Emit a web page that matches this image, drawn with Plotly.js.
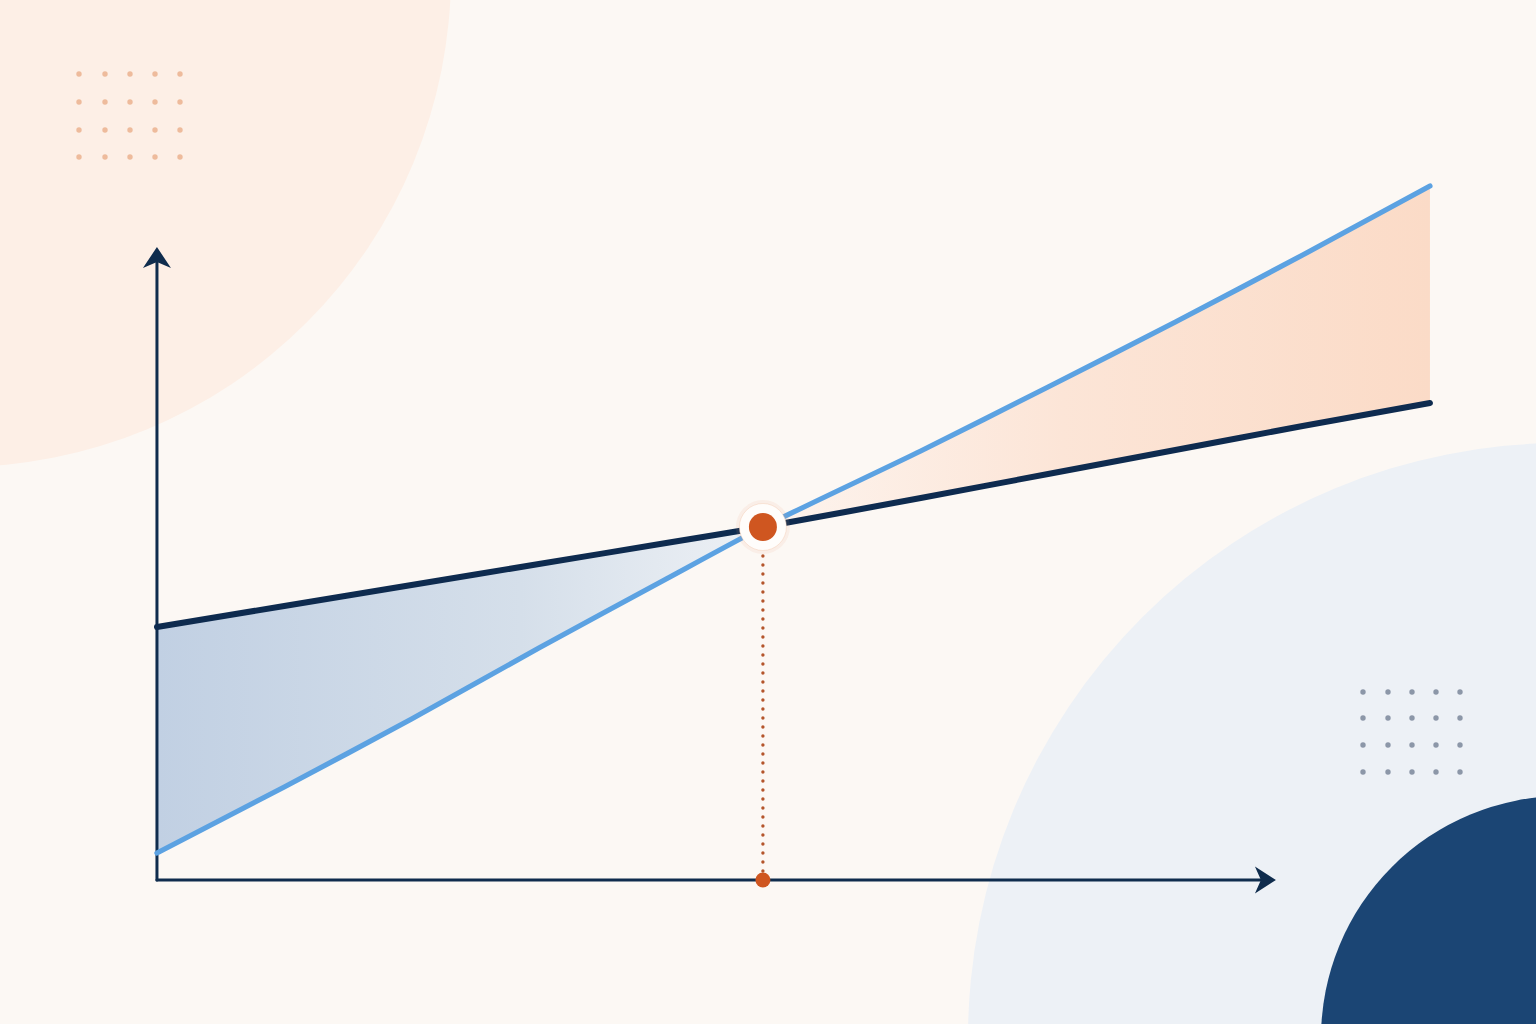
<!DOCTYPE html>
<html>
<head>
<meta charset="utf-8">
<script src="https://cdn.plot.ly/plotly-3.0.1.min.js"></script>
<style>
  html, body { margin: 0; padding: 0; background: #fcf8f4; overflow: hidden; }
  #chart { width: 1536px; height: 1024px; }
  /* rounded ends on the cost / revenue lines and round dots on the drop line */
  .scatterlayer .js-line { stroke-linecap: round; }
</style>
</head>
<body>
<div id="chart"></div>
<script>
// Break-even chart: total cost vs. sales revenue, no labels

// ---- data ----
const units   = [0, 10, 20, 30, 40, 47.6, 60, 70, 80, 90, 100];
const cost    = [25.3, 27.4, 29.5, 31.6, 33.7, 35.3, 38.2, 40.6, 43.0, 45.4, 47.7];
const revenue = [2.7, 9.3, 16.1, 23.2, 30.1, 35.3, 42.9, 49.3, 55.8, 62.5, 69.4];
const breakEvenX = [47.6];
const breakEvenY = [35.3];

// ---- frame ----
const W = 1536, H = 1024;
const X_RANGE = [-12.33, 108.33];
const Y_RANGE = [-14.4, 88.0];
const X_ARROW_TIP = 87.9;
const Y_ARROW_TIP = 63.3;

const COLORS = {
    bg: '#fcf8f4',
    peachBlob: '#fdefe6',
    blueBlob: '#edf1f6',
    navyBlob: '#1b4574',
    axis: '#0f2c4d',
    cost: '#0e2b4f',
    revenue: '#5ca2e2',
    accent: '#cf5620',
    drop: '#b4552b',
    peachDot: '#eebb9c',
    greyDot: '#8c97a8'
};

// ---- decoration helpers (pixel -> paper) ----
function circle(cx, cy, r, color) {
    return {
        type: 'circle', xref: 'paper', yref: 'paper', layer: 'below',
        x0: (cx - r) / W, x1: (cx + r) / W,
        y0: 1 - (cy + r) / H, y1: 1 - (cy - r) / H,
        fillcolor: color, line: { width: 0 }
    };
}

function dotGrid(xs, ys, r, color) {
    const out = [];
    ys.forEach(y => xs.forEach(x => out.push(circle(x, y, r, color))));
    return out;
}

const shapes = [
    circle(-42, -26, 493, COLORS.peachBlob),
    circle(1563, 1038, 595, COLORS.blueBlob),
    circle(1563, 1038, 242, COLORS.navyBlob),
    ...dotGrid([79, 105, 130, 155, 180], [74, 102, 130, 157], 2.7, COLORS.peachDot),
    ...dotGrid([1363, 1388, 1412, 1436, 1460], [692, 718, 745, 772], 2.7, COLORS.greyDot),
    // arrow heads
    {
        type: 'path', xref: 'x', yref: 'y', xsizemode: 'pixel', ysizemode: 'pixel',
        xanchor: 0, yanchor: Y_ARROW_TIP, layer: 'above',
        path: 'M0,0 L-14,-21 L0,-15 L14,-21 Z',
        fillcolor: COLORS.axis, line: { width: 0 }
    },
    {
        type: 'path', xref: 'x', yref: 'y', xsizemode: 'pixel', ysizemode: 'pixel',
        xanchor: X_ARROW_TIP, yanchor: 0, layer: 'above',
        path: 'M0,0 L-21,13.5 L-15,0 L-21,-13.5 Z',
        fillcolor: COLORS.axis, line: { width: 0 }
    }
];

// ---- loss / profit areas, built from the series ----
const be = units.indexOf(breakEvenX[0]);
const lossU = units.slice(0, be + 1);
const profitU = units.slice(be);

const lossArea = {
    x: lossU.concat(lossU.slice().reverse()),
    y: cost.slice(0, be + 1).concat(revenue.slice(0, be + 1).reverse()),
    mode: 'none', fill: 'toself', hoverinfo: 'skip',
    fillgradient: { type: 'horizontal', colorscale: [[0, '#c1d0e3'], [0.6, '#d5dfea'], [1, '#eef1f5']] }
};

const profitArea = {
    x: profitU.concat(profitU.slice().reverse()),
    y: revenue.slice(be).concat(cost.slice(be).reverse()),
    mode: 'none', fill: 'toself', hoverinfo: 'skip',
    fillgradient: { type: 'horizontal', colorscale: [[0, '#fdf4ee'], [0.45, '#fce5d7'], [1, '#fbdbc7']] }
};

// ---- axes as lines ----
const yAxisLine = {
    x: [0, 0], y: [0, Y_ARROW_TIP - 1.2], mode: 'lines', hoverinfo: 'skip',
    line: { color: COLORS.axis, width: 3 }
};
const xAxisLine = {
    x: [0, X_ARROW_TIP - 1.0], y: [0, 0], mode: 'lines', hoverinfo: 'skip',
    line: { color: COLORS.axis, width: 3 }
};

// ---- series ----
const revenueLine = {
    x: units, y: revenue, mode: 'lines', hoverinfo: 'skip',
    line: { color: COLORS.revenue, width: 5.2, shape: 'spline', smoothing: 0.6 }
};
const costLine = {
    x: units, y: cost, mode: 'lines', hoverinfo: 'skip',
    line: { color: COLORS.cost, width: 6, shape: 'spline', smoothing: 0.6 }
};

// drop line from break-even point down to the x axis
const dropLine = {
    x: [breakEvenX[0], breakEvenX[0]], y: [0, breakEvenY[0]],
    mode: 'lines', hoverinfo: 'skip',
    line: { color: COLORS.drop, width: 3.4, dash: '0.1px,8.9px' }
};
const axisDot = {
    x: breakEvenX, y: [0], mode: 'markers', hoverinfo: 'skip',
    marker: { color: COLORS.accent, size: 15, line: { width: 0 } }
};

// break-even marker: soft halo, white ring, orange core
const halo = {
    x: breakEvenX, y: breakEvenY, mode: 'markers', hoverinfo: 'skip',
    marker: { color: 'rgba(236,160,120,0.10)', size: 54, line: { width: 0 } }
};
const ring = {
    x: breakEvenX, y: breakEvenY, mode: 'markers', hoverinfo: 'skip',
    marker: { color: '#fffdfb', size: 47, line: { color: 'rgba(245,205,180,0.45)', width: 1 } }
};
const core = {
    x: breakEvenX, y: breakEvenY, mode: 'markers', hoverinfo: 'skip',
    marker: { color: COLORS.accent, size: 28, line: { width: 0 } }
};

const layout = {
    width: W,
    height: H,
    margin: { t: 0, r: 0, b: 0, l: 0 },
    paper_bgcolor: COLORS.bg,
    plot_bgcolor: 'rgba(0,0,0,0)',
    showlegend: false,
    xaxis: { range: X_RANGE, visible: false, fixedrange: true },
    yaxis: { range: Y_RANGE, visible: false, fixedrange: true },
    shapes: shapes
};

const config = { displayModeBar: false, staticPlot: true };

Plotly.newPlot('chart',
    [lossArea, profitArea, yAxisLine, xAxisLine, dropLine, axisDot,
     revenueLine, costLine, halo, ring, core],
    layout, config);
</script>
</body>
</html>
